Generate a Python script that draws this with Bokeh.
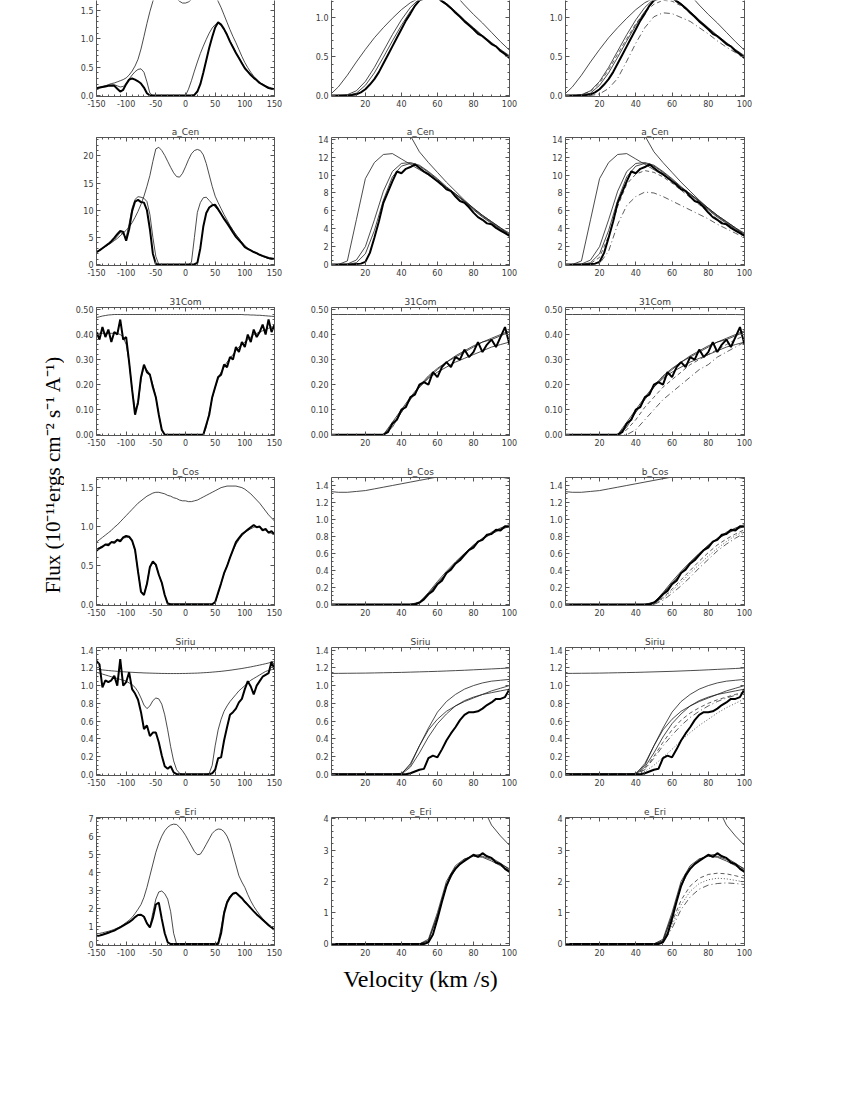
import numpy as np
from math import pi
from bokeh.plotting import figure
from bokeh.layouts import column, row
from bokeh.models import FixedTicker, LinearAxis, PrintfTickFormatter, CustomJSTickFormatter, Range1d
from bokeh.core.properties import value
from bokeh.embed import file_html
from bokeh.resources import INLINE

# ---------------- data ----------------
V = list(range(-150, 151, 5))          # full velocity grid (61)
VZ = [i * 2.5 for i in range(41)]      # zoom grid for observed (0..100)
VM = list(range(0, 101, 5))            # model grid (0..100)

STAR_NAMES = ["", "a_Cen", "31Com", "b_Cos", "Siriu", "e_Eri"]

s1_intr = [0.12, 0.13, 0.15, 0.17, 0.19, 0.21, 0.22, 0.24, 0.26, 0.28,
           0.31, 0.36, 0.43, 0.52, 0.64, 0.82, 1.04, 1.27, 1.48, 1.66,
           1.81, 1.92, 1.99, 2.01, 1.98, 1.90, 1.80, 1.71, 1.66, 1.63,
           1.63, 1.65, 1.69, 1.75, 1.82, 1.89, 1.94, 1.96, 1.95, 1.88,
           1.78, 1.66, 1.55, 1.42, 1.29, 1.16, 1.04, 0.93, 0.81, 0.69,
           0.58, 0.49, 0.41, 0.34, 0.28, 0.23, 0.20, 0.17, 0.15, 0.13,
           0.12]
s1_mod = [0.13, 0.14, 0.16, 0.17, 0.18, 0.19, 0.19, 0.17, 0.15, 0.16,
          0.21, 0.29, 0.36, 0.42, 0.46, 0.47, 0.41, 0.24, 0.04, 0.0,
          0.0, 0.0, 0.0, 0.0, 0.0, 0.0, 0.0, 0.0, 0.0, 0.0,
          0.0, 0.11, 0.26, 0.43, 0.59, 0.74, 0.87, 0.99, 1.10, 1.19,
          1.25, 1.28, 1.24, 1.16, 1.07, 0.96, 0.86, 0.76, 0.67, 0.58,
          0.49, 0.43, 0.37, 0.32, 0.27, 0.23, 0.19, 0.16, 0.14, 0.12,
          0.11]
s1_obs = [0.13, 0.14, 0.15, 0.16, 0.17, 0.17, 0.17, 0.12, 0.07, 0.10,
          0.20, 0.28, 0.30, 0.28, 0.25, 0.21, 0.14, 0.04, 0.0, 0.0,
          0.0, 0.0, 0.0, 0.0, 0.0, 0.0, 0.0, 0.0, 0.0, 0.0,
          0.0, 0.0, 0.0, 0.01, 0.07, 0.20, 0.40, 0.62, 0.84, 1.03,
          1.20, 1.29, 1.25, 1.17, 1.07, 0.95, 0.85, 0.75, 0.66, 0.57,
          0.48, 0.42, 0.36, 0.31, 0.27, 0.22, 0.19, 0.16, 0.13, 0.12,
          0.11]
s1_obsz = [0.0, 0.0, 0.0, 0.0, 0.0, 0.005, 0.015, 0.04, 0.08, 0.14,
           0.21, 0.30, 0.41, 0.52, 0.63, 0.74, 0.85, 0.96, 1.05, 1.15,
           1.22, 1.24, 1.29, 1.28, 1.26, 1.21, 1.17, 1.12, 1.06, 1.01,
           0.95, 0.90, 0.85, 0.79, 0.76, 0.71, 0.66, 0.63, 0.57, 0.53,
           0.48]
s1_fita = [0, 0, 0.0, 0.03, 0.13, 0.29, 0.49, 0.70, 0.90, 1.08, 1.21, 1.28, 1.26, 1.18, 1.08, 0.97, 0.87, 0.77, 0.68, 0.59, 0.51]
s1_fitb = [0, 0, 0.01, 0.06, 0.18, 0.36, 0.57, 0.78, 0.97, 1.13, 1.24, 1.28, 1.25, 1.17, 1.07, 0.96, 0.86, 0.76, 0.67, 0.58, 0.50]
s1_dd = [0, 0, 0, 0, 0.02, 0.09, 0.22, 0.44, 0.67, 0.87, 1.01, 1.06, 1.05, 1.00, 0.95, 0.87, 0.79, 0.70, 0.62, 0.55, 0.48]
s1_dash = [0, 0, 0.01, 0.05, 0.16, 0.33, 0.53, 0.73, 0.92, 1.07, 1.17, 1.22, 1.21, 1.15, 1.06, 0.96, 0.86, 0.76, 0.67, 0.58, 0.50]

s2_intr = [2.3, 2.6, 3.0, 3.3, 3.7, 4.0, 4.4, 4.8, 5.3, 5.8,
           6.3, 6.9, 7.7, 8.7, 9.8, 11.1, 12.6, 14.4, 16.4, 19.0,
           21.3, 21.6, 21.0, 20.1, 19.0, 17.9, 16.9, 16.2, 16.1, 16.8,
           18.0, 19.3, 20.4, 21.0, 21.2, 21.0, 20.2, 18.6, 16.5, 14.4,
           12.6, 11.4, 10.3, 9.2, 8.2, 7.2, 6.3, 5.5, 4.8, 4.1,
           3.5, 3.0, 2.6, 2.3, 2.0, 1.8, 1.5, 1.3, 1.1, 1.0,
           0.9]
s2_mod = [2.3, 2.6, 3.0, 3.3, 3.7, 4.1, 4.6, 5.2, 5.9, 5.6,
          5.0, 7.5, 10.4, 12.0, 12.5, 12.4, 12.2, 11.6, 9.2, 5.0,
          1.5, 0.0, 0.0, 0.0, 0.0, 0.0, 0.0, 0.0, 0.0, 0.0,
          0.0, 0.0, 0.4, 5.0, 9.6, 11.4, 12.3, 12.4, 11.8, 11.2,
          10.6, 10.0, 9.3, 8.6, 7.9, 7.1, 6.3, 5.5, 4.8, 4.1,
          3.3, 2.9, 2.6, 2.3, 2.0, 1.8, 1.5, 1.3, 1.1, 1.0,
          0.9]
s2_obs = [2.3, 2.6, 3.0, 3.4, 3.8, 4.3, 4.9, 5.6, 6.2, 6.0,
          4.4, 6.5, 9.8, 11.6, 11.9, 11.5, 11.4, 10.0, 6.5, 2.0,
          0.1, 0.0, 0.0, 0.0, 0.0, 0.0, 0.0, 0.0, 0.0, 0.0,
          0.0, 0.0, 0.0, 0.05, 0.3, 3.0, 7.0, 9.5, 10.5, 10.9,
          11.0, 10.2, 9.3, 8.4, 7.6, 6.8, 5.9, 5.1, 4.5, 3.9,
          3.2, 2.9, 2.6, 2.3, 2.1, 1.8, 1.6, 1.4, 1.2, 1.1,
          1.0]
s2_obsz = [0.0, 0.0, 0.0, 0.0, 0.0, 0.0, 0.05, 0.1, 0.3, 1.3,
           3.0, 4.8, 6.9, 8.1, 9.3, 10.4, 10.2, 10.7, 10.9, 11.2,
           10.8, 10.4, 10.1, 9.7, 9.3, 8.9, 8.4, 8.2, 7.6, 7.1,
           6.9, 6.4, 5.8, 5.3, 5.0, 4.6, 4.5, 4.1, 3.8, 3.5,
           3.2]
s2_fita = [0, 0, 0, 0.2, 1.2, 3.8, 7.2, 9.8, 11.0, 11.3, 11.0, 10.3, 9.5, 8.6, 7.8, 7.0, 6.1, 5.3, 4.6, 3.9, 3.3]
s2_fitb = [0, 0, 0.05, 0.5, 2.0, 5.0, 8.2, 10.4, 11.3, 11.4, 11.1, 10.4, 9.6, 8.7, 7.9, 7.1, 6.2, 5.4, 4.7, 4.0, 3.4]
s2_dd = [0, 0, 0, 0, 0.1, 1.5, 4.5, 6.6, 7.6, 8.1, 8.0, 7.6, 7.1, 6.6, 6.1, 5.6, 5.1, 4.5, 4.0, 3.5, 3.0]
s2_dash = [0, 0, 0, 0.1, 0.8, 3.2, 6.5, 9.0, 10.1, 10.5, 10.3, 9.8, 9.1, 8.3, 7.5, 6.7, 5.9, 5.1, 4.4, 3.8, 3.2]

s3_intr = [0.468, 0.471, 0.474, 0.476, 0.478, 0.479, 0.480, 0.480, 0.480, 0.480,
           0.480, 0.480, 0.480, 0.480, 0.480, 0.480, 0.480, 0.480, 0.480, 0.480,
           0.480, 0.480, 0.480, 0.480, 0.480, 0.480, 0.480, 0.480, 0.480, 0.480,
           0.480, 0.480, 0.480, 0.480, 0.480, 0.480, 0.480, 0.480, 0.480, 0.480,
           0.480, 0.480, 0.480, 0.480, 0.480, 0.480, 0.480, 0.480, 0.480, 0.480,
           0.479, 0.479, 0.478, 0.478, 0.477, 0.477, 0.476, 0.475, 0.474, 0.473,
           0.472]
s3_mod = [0.405, 0.405, 0.405, 0.405, 0.405, 0.405, 0.405, 0.405, 0.40, 0.39,
          0.36, 0.29, 0.18, 0.10, 0.12, 0.22, 0.27, 0.26, 0.24, 0.20,
          0.15, 0.08, 0.02, 0.0, 0.0, 0.0, 0.0, 0.0, 0.0, 0.0,
          0.0, 0.0, 0.0, 0.0, 0.0, 0.0, 0.0, 0.03, 0.09, 0.145,
          0.19, 0.225, 0.25, 0.27, 0.29, 0.305, 0.32, 0.335, 0.35, 0.36,
          0.37, 0.38, 0.39, 0.40, 0.405, 0.41, 0.415, 0.42, 0.425, 0.43,
          0.43]
s3_obs = [0.41, 0.38, 0.43, 0.39, 0.42, 0.37, 0.41, 0.40, 0.46, 0.38,
          0.39, 0.29, 0.18, 0.08, 0.13, 0.23, 0.28, 0.25, 0.24, 0.19,
          0.15, 0.08, 0.02, 0.0, 0.0, 0.0, 0.0, 0.0, 0.0, 0.0,
          0.0, 0.0, 0.0, 0.0, 0.0, 0.0, 0.0, 0.04, 0.08, 0.15,
          0.19, 0.23, 0.24, 0.28, 0.27, 0.31, 0.30, 0.35, 0.33, 0.37,
          0.35, 0.40, 0.37, 0.42, 0.39, 0.41, 0.44, 0.40, 0.46, 0.41,
          0.44]
s3_obsz = [0.0, 0.0, 0.0, 0.0, 0.0, 0.0, 0.0, 0.0, 0.0, 0.0,
           0.0, 0.0, 0.0, 0.01, 0.045, 0.06, 0.10, 0.11, 0.15, 0.16,
           0.20, 0.21, 0.20, 0.25, 0.23, 0.27, 0.29, 0.27, 0.31, 0.30,
           0.34, 0.31, 0.33, 0.37, 0.33, 0.36, 0.38, 0.35, 0.39, 0.43,
           0.36]
s3_fita = [0, 0, 0, 0, 0, 0, 0.0, 0.04, 0.09, 0.14, 0.19, 0.23, 0.26, 0.29, 0.31, 0.33, 0.35, 0.37, 0.38, 0.395, 0.41]
s3_fitb = [0, 0, 0, 0, 0, 0, 0.0, 0.05, 0.10, 0.15, 0.195, 0.235, 0.265, 0.29, 0.315, 0.335, 0.355, 0.37, 0.385, 0.40, 0.415]
s3_dd = [0, 0, 0, 0, 0, 0, 0, 0.0, 0.02, 0.06, 0.10, 0.14, 0.17, 0.20, 0.23, 0.26, 0.28, 0.31, 0.33, 0.35, 0.37]
s3_dash = [0, 0, 0, 0, 0, 0, 0, 0.02, 0.06, 0.11, 0.15, 0.19, 0.22, 0.25, 0.28, 0.30, 0.32, 0.34, 0.36, 0.38, 0.395]

s4_intr = [0.80, 0.83, 0.86, 0.89, 0.92, 0.95, 0.99, 1.02, 1.06, 1.10,
           1.14, 1.18, 1.22, 1.26, 1.30, 1.33, 1.36, 1.39, 1.41, 1.43,
           1.44, 1.44, 1.43, 1.42, 1.40, 1.39, 1.37, 1.36, 1.34, 1.33,
           1.33, 1.32, 1.32, 1.33, 1.34, 1.36, 1.38, 1.40, 1.42, 1.44,
           1.46, 1.48, 1.50, 1.51, 1.52, 1.52, 1.52, 1.52, 1.51, 1.50,
           1.48, 1.45, 1.42, 1.38, 1.34, 1.30, 1.25, 1.20, 1.15, 1.11,
           1.07]
s4_mod = [0.71, 0.73, 0.75, 0.77, 0.78, 0.80, 0.81, 0.82, 0.83, 0.85,
          0.86, 0.86, 0.81, 0.69, 0.42, 0.17, 0.13, 0.27, 0.48, 0.54,
          0.50, 0.39, 0.27, 0.12, 0.01, 0.0, 0.0, 0.0, 0.0, 0.0,
          0.0, 0.0, 0.0, 0.0, 0.0, 0.0, 0.0, 0.0, 0.0, 0.0,
          0.02, 0.14, 0.27, 0.39, 0.50, 0.60, 0.69, 0.77, 0.83, 0.88,
          0.92, 0.95, 0.97, 0.99, 1.00, 0.99, 0.97, 0.95, 0.93, 0.91,
          0.90]
s4_obs = [0.69, 0.72, 0.74, 0.77, 0.76, 0.80, 0.79, 0.83, 0.81, 0.86,
          0.88, 0.87, 0.82, 0.70, 0.42, 0.16, 0.12, 0.26, 0.48, 0.55,
          0.51, 0.38, 0.28, 0.12, 0.01, 0.0, 0.0, 0.0, 0.0, 0.0,
          0.0, 0.0, 0.0, 0.0, 0.0, 0.0, 0.0, 0.0, 0.0, 0.0,
          0.03, 0.15, 0.27, 0.40, 0.49, 0.60, 0.70, 0.80, 0.85, 0.90,
          0.93, 0.96, 0.99, 1.02, 0.99, 1.00, 0.95, 0.97, 0.92, 0.94,
          0.90]
s4_obsz = [0.0, 0.0, 0.0, 0.0, 0.0, 0.0, 0.0, 0.0, 0.0, 0.0,
           0.0, 0.0, 0.0, 0.0, 0.0, 0.0, 0.0, 0.0, 0.0, 0.0,
           0.02, 0.06, 0.12, 0.16, 0.24, 0.28, 0.37, 0.41, 0.48, 0.52,
           0.58, 0.64, 0.67, 0.74, 0.76, 0.82, 0.83, 0.88, 0.87, 0.92,
           0.91]
s4_fita = [0, 0, 0, 0, 0, 0, 0, 0, 0, 0, 0.02, 0.12, 0.24, 0.36, 0.48, 0.59, 0.69, 0.77, 0.84, 0.89, 0.93]
s4_fitb = [0, 0, 0, 0, 0, 0, 0, 0, 0, 0.0, 0.03, 0.13, 0.25, 0.37, 0.49, 0.60, 0.70, 0.78, 0.85, 0.90, 0.94]
s4_dd = [0, 0, 0, 0, 0, 0, 0, 0, 0, 0, 0.0, 0.05, 0.13, 0.22, 0.32, 0.43, 0.53, 0.63, 0.71, 0.78, 0.84]
s4_dash = [0, 0, 0, 0, 0, 0, 0, 0, 0, 0, 0.01, 0.08, 0.18, 0.29, 0.40, 0.51, 0.61, 0.70, 0.77, 0.83, 0.88]
s4_dot = [0, 0, 0, 0, 0, 0, 0, 0, 0, 0, 0.0, 0.07, 0.16, 0.26, 0.37, 0.47, 0.57, 0.66, 0.74, 0.81, 0.86]

s5_intr = [1.185, 1.181, 1.177, 1.173, 1.170, 1.167, 1.164, 1.161, 1.159, 1.156,
           1.154, 1.152, 1.150, 1.148, 1.146, 1.145, 1.143, 1.142, 1.141, 1.140,
           1.139, 1.138, 1.137, 1.137, 1.136, 1.136, 1.136, 1.136, 1.136, 1.137,
           1.137, 1.138, 1.139, 1.140, 1.141, 1.143, 1.145, 1.147, 1.149, 1.152,
           1.155, 1.158, 1.161, 1.165, 1.169, 1.173, 1.178, 1.183, 1.188, 1.193,
           1.199, 1.205, 1.211, 1.218, 1.225, 1.232, 1.239, 1.247, 1.255, 1.263,
           1.271]
s5_mod = [1.15, 1.14, 1.13, 1.12, 1.11, 1.10, 1.09, 1.08, 1.07, 1.06,
          1.05, 1.03, 1.01, 0.98, 0.93, 0.86, 0.78, 0.74, 0.77, 0.83,
          0.86, 0.85, 0.79, 0.67, 0.50, 0.31, 0.15, 0.05, 0.01, 0.0,
          0.0, 0.0, 0.0, 0.0, 0.0, 0.0, 0.0, 0.0, 0.01, 0.10,
          0.32, 0.50, 0.62, 0.71, 0.77, 0.82, 0.86, 0.90, 0.94, 0.97,
          1.00, 1.03, 1.06, 1.08, 1.10, 1.12, 1.14, 1.16, 1.17, 1.18,
          1.19]
s5_obs = [1.28, 1.24, 0.98, 1.06, 1.04, 1.06, 1.11, 1.00, 1.30, 1.00,
          1.04, 1.15, 0.96, 0.91, 0.84, 0.70, 0.51, 0.55, 0.43, 0.47,
          0.47, 0.36, 0.21, 0.09, 0.06, 0.09, 0.02, 0.0, 0.0, 0.0,
          0.0, 0.0, 0.0, 0.0, 0.0, 0.0, 0.0, 0.0, 0.0, 0.01,
          0.05, 0.18, 0.19, 0.38, 0.53, 0.67, 0.70, 0.74, 0.81, 0.85,
          0.96, 1.05, 0.99, 0.90, 1.00, 1.05, 1.10, 1.12, 1.14, 1.27,
          1.18]
s5_obsz = [0.0, 0.0, 0.0, 0.0, 0.0, 0.0, 0.0, 0.0, 0.0, 0.0,
           0.0, 0.0, 0.0, 0.0, 0.0, 0.0, 0.0, 0.0, 0.01, 0.03,
           0.05, 0.06, 0.18, 0.21, 0.19, 0.28, 0.38, 0.46, 0.53, 0.61,
           0.67, 0.70, 0.70, 0.71, 0.74, 0.78, 0.81, 0.85, 0.85, 0.87,
           0.96]
s5_fita = [0, 0, 0, 0, 0, 0, 0, 0, 0.0, 0.08, 0.24, 0.42, 0.57, 0.68, 0.77, 0.83, 0.87, 0.90, 0.92, 0.94, 0.96]
s5_fitb = [0, 0, 0, 0, 0, 0, 0, 0, 0.0, 0.12, 0.32, 0.52, 0.70, 0.82, 0.90, 0.96, 1.00, 1.03, 1.05, 1.06, 1.07]
s5_dd = [0, 0, 0, 0, 0, 0, 0, 0, 0.0, 0.05, 0.18, 0.32, 0.44, 0.55, 0.64, 0.71, 0.77, 0.82, 0.86, 0.89, 0.92]
s5_dash = [0, 0, 0, 0, 0, 0, 0, 0, 0.0, 0.06, 0.20, 0.36, 0.50, 0.61, 0.69, 0.75, 0.80, 0.84, 0.87, 0.90, 0.93]
s5_dot = [0, 0, 0, 0, 0, 0, 0, 0, 0.0, 0.03, 0.10, 0.19, 0.28, 0.38, 0.47, 0.55, 0.62, 0.69, 0.75, 0.80, 0.85]

s6_intr = [0.55, 0.59, 0.63, 0.67, 0.71, 0.76, 0.82, 0.89, 0.97, 1.08,
           1.20, 1.33, 1.48, 1.70, 1.94, 2.20, 2.60, 3.15, 3.80, 4.45,
           5.10, 5.60, 6.00, 6.30, 6.50, 6.62, 6.67, 6.65, 6.50, 6.30,
           6.05, 5.75, 5.45, 5.15, 4.97, 5.00, 5.25, 5.55, 5.85, 6.15,
           6.32, 6.40, 6.38, 6.25, 6.00, 5.60, 5.00, 4.40, 3.80, 3.45,
           3.15, 2.75, 2.40, 2.10, 1.85, 1.62, 1.42, 1.25, 1.10, 0.95,
           0.82]
s6_mod = [0.44, 0.48, 0.53, 0.58, 0.64, 0.70, 0.76, 0.85, 0.94, 1.03,
          1.13, 1.23, 1.35, 1.50, 1.62, 1.64, 1.55, 1.20, 0.95, 1.75,
          2.50, 2.90, 2.95, 2.80, 2.50, 1.80, 0.60, 0.0, 0.0, 0.0,
          0.0, 0.0, 0.0, 0.0, 0.0, 0.0, 0.0, 0.0, 0.0, 0.0,
          0.0, 0.1, 0.9, 1.85, 2.40, 2.68, 2.83, 2.87, 2.75, 2.58,
          2.38, 2.20, 2.02, 1.84, 1.67, 1.51, 1.36, 1.21, 1.07, 0.94,
          0.82]
s6_obs = [0.43, 0.47, 0.52, 0.57, 0.63, 0.69, 0.75, 0.84, 0.93, 1.02,
          1.12, 1.22, 1.34, 1.50, 1.62, 1.63, 1.52, 1.15, 0.92, 1.45,
          2.20, 2.30, 1.40, 0.60, 0.10, 0.0, 0.0, 0.0, 0.0, 0.0,
          0.0, 0.0, 0.0, 0.0, 0.0, 0.0, 0.0, 0.0, 0.0, 0.0,
          0.0, 0.0, 0.6, 1.7, 2.3, 2.6, 2.8, 2.85, 2.7, 2.55,
          2.35, 2.18, 2.00, 1.82, 1.65, 1.50, 1.35, 1.20, 1.05, 0.92,
          0.80]
s6_obsz = [0.0, 0.0, 0.0, 0.0, 0.0, 0.0, 0.0, 0.0, 0.0, 0.0,
           0.0, 0.0, 0.0, 0.0, 0.0, 0.0, 0.0, 0.0, 0.0, 0.0,
           0.0, 0.0, 0.05, 0.3, 0.8, 1.35, 1.85, 2.2, 2.4, 2.55,
           2.65, 2.75, 2.85, 2.78, 2.9, 2.8, 2.75, 2.6, 2.55, 2.4,
           2.3]
s6_fita = [0, 0, 0, 0, 0, 0, 0, 0, 0, 0, 0.0, 0.1, 0.9, 1.9, 2.45, 2.7, 2.82, 2.8, 2.7, 2.55, 2.4]
s6_fitb = [0, 0, 0, 0, 0, 0, 0, 0, 0, 0, 0.0, 0.15, 1.0, 2.0, 2.5, 2.72, 2.8, 2.77, 2.65, 2.5, 2.35]
s6_dd = [0, 0, 0, 0, 0, 0, 0, 0, 0, 0, 0.0, 0.05, 0.5, 1.1, 1.5, 1.75, 1.88, 1.93, 1.95, 1.93, 1.90]
s6_dash = [0, 0, 0, 0, 0, 0, 0, 0, 0, 0, 0.0, 0.08, 0.7, 1.4, 1.85, 2.1, 2.22, 2.26, 2.24, 2.18, 2.10]
s6_dot = [0, 0, 0, 0, 0, 0, 0, 0, 0, 0, 0.0, 0.06, 0.6, 1.25, 1.68, 1.93, 2.05, 2.10, 2.08, 2.03, 1.98]

# tick labels
X1_TICKS = [-150, -100, -50, 0, 50, 100, 150]
X2_TICKS = [20, 40, 60, 80, 100]
Y1_TICKS = [[0, 0.5, 1.0, 1.5], [0, 5, 10, 15, 20], [0, 0.1, 0.2, 0.3, 0.4, 0.5],
            [0, 0.5, 1.0, 1.5], [0, 0.2, 0.4, 0.6, 0.8, 1.0, 1.2, 1.4], [0, 1, 2, 3, 4, 5, 6, 7]]
Y2_TICKS = [[0, 0.5, 1.0], [0, 2, 4, 6, 8, 10, 12, 14], [0, 0.1, 0.2, 0.3, 0.4, 0.5],
            [0, 0.2, 0.4, 0.6, 0.8, 1.0, 1.2, 1.4], [0, 0.2, 0.4, 0.6, 0.8, 1.0, 1.2, 1.4], [0, 1, 2, 3, 4]]
Y_FMT = ["%.1f", "%d", "%.2f", "%.1f", "%.1f", "%d"]
YLABEL = "Flux (10\u207b\u00b9\u00b9ergs cm\u207b\u00b2 s\u207b\u00b9 A\u207b\u00b9)"
XLABEL = "Velocity (km /s)"

# ---------------- styling / layout ----------------
Y1_RANGE = [(-0.018, 1.675), (-0.18, 23.4), (-0.003, 0.508), (-0.015, 1.63), (-0.015, 1.43), (-0.08, 7.04)]
Y2_RANGE = [(-0.013, 1.218), (-0.11, 14.2), (-0.003, 0.508), (-0.012, 1.494), (-0.015, 1.43), (-0.05, 4.04)]
Y1_MINOR = [0.1, 1, 0.02, 0.1, 0.05, 0.2]
Y2_MINOR = [0.1, 0.5, 0.02, 0.05, 0.05, 0.2]

FRAME = "#555555"
LABC = "#3a3a3a"
THIN = "#1e1e1e"

STARS = []
for k, nm in enumerate(STAR_NAMES):
    g = globals()
    STARS.append(dict(name=nm, intr=g["s%d_intr" % (k + 1)], mod=g["s%d_mod" % (k + 1)],
                      obs=g["s%d_obs" % (k + 1)], obsz=g["s%d_obsz" % (k + 1)],
                      fita=g["s%d_fita" % (k + 1)], fitb=g["s%d_fitb" % (k + 1)],
                      dd=g["s%d_dd" % (k + 1)], dash=g["s%d_dash" % (k + 1)],
                      dot=g.get("s%d_dot" % (k + 1))))


def minor_list(lo, hi, step):
    n = int(round((hi - lo) / step))
    return [round(lo + i * step, 6) for i in range(n + 1)]


def style_axis(ax, ticker, fmt, show):
    ax.ticker = ticker
    ax.formatter = PrintfTickFormatter(format=fmt) if show else CustomJSTickFormatter(code="return '';")
    ax.axis_line_color = FRAME
    ax.axis_line_width = 1
    ax.major_tick_in = 4
    ax.major_tick_out = 0
    ax.minor_tick_in = 2
    ax.minor_tick_out = 0
    ax.major_tick_line_color = FRAME
    ax.minor_tick_line_color = FRAME
    ax.major_label_text_font = "DejaVu Sans"
    ax.major_label_text_font_size = "8px"
    ax.major_label_text_color = LABC
    ax.major_label_standoff = 3


NROWS = len(STARS)


def panel(ri, ci, st):
    first = ri == 0
    last = ri == NROWS - 1
    if ci == 0:
        w, bl = 230, 32
        xr = (-150, 150)
        xt = FixedTicker(ticks=X1_TICKS, minor_ticks=minor_list(-150, 150, 10))
        yr = Y1_RANGE[ri]
        yt = FixedTicker(ticks=Y1_TICKS[ri], minor_ticks=minor_list(0, Y1_TICKS[ri][-1] + 3 * Y1_MINOR[ri], Y1_MINOR[ri]))
    else:
        w, bl = 235, (37 if ci == 1 else 36)
        xr = (1.2, 100)
        xt = FixedTicker(ticks=X2_TICKS, minor_ticks=minor_list(0, 100, 5))
        yr = Y2_RANGE[ri]
        yt = FixedTicker(ticks=Y2_TICKS[ri], minor_ticks=minor_list(0, Y2_TICKS[ri][-1] + 3 * Y2_MINOR[ri], Y2_MINOR[ri]))
    bt = 0 if first else 20
    bb = 21 if first else (15 if last else 22)
    fh = 96 if first else 128
    p = figure(width=w, height=bt + fh + bb, x_range=Range1d(*xr), y_range=Range1d(*yr),
               output_backend="svg", toolbar_location=None,
               title=None if first else st["name"],
               min_border_left=bl, min_border_right=20,
               min_border_top=bt, min_border_bottom=bb)
    p.outline_line_color = None
    p.grid.visible = False
    p.background_fill_color = "white"
    p.border_fill_color = "white"
    if not first:
        p.title.align = "center"
        p.title.text_font = "DejaVu Sans"
        p.title.text_font_size = "9px"
        p.title.text_font_style = "normal"
        p.title.text_color = LABC
        p.title.standoff = 1
    style_axis(p.xaxis[0], xt, "%d", True)
    style_axis(p.yaxis[0], yt, Y_FMT[ri], True)
    ra = LinearAxis()
    style_axis(ra, yt, "%d", False)
    p.add_layout(ra, "right")
    if not first:
        ta = LinearAxis()
        style_axis(ta, xt, "%d", False)
        p.add_layout(ta, "above")

    thin = 0.8
    p.line(V, st["intr"], line_width=thin, line_color=THIN)
    p.line(V, st["mod"], line_width=thin, line_color=THIN)
    if ci == 0:
        p.line(V, st["obs"], line_width=2.0, line_color="black")
    else:
        p.line(VM, st["fita"], line_width=thin, line_color=THIN)
        p.line(VM, st["fitb"], line_width=thin, line_color=THIN)
        if ci == 2:
            p.line(VM, st["dash"], line_width=thin, line_color="#333333", line_dash="4 3")
            p.line(VM, st["dd"], line_width=thin, line_color="#333333", line_dash="6 3 1 3")
            if st["dot"] is not None:
                p.line(VM, st["dot"], line_width=thin, line_color="#333333", line_dash="1 2")
        p.line(VZ, st["obsz"], line_width=2.0, line_color="black")
    return p


rows = []
for ri, st in enumerate(STARS):
    rows.append(row(*[panel(ri, ci, st) for ci in range(3)]))
grid = column(*rows)

GRID_H = 117 + 4 * 170 + 163
lab = figure(width=64, height=GRID_H, x_range=Range1d(0, 64), y_range=Range1d(0, GRID_H),
             output_backend="svg", toolbar_location=None, title=None,
             x_axis_location=None, y_axis_location=None, min_border=0)
lab.grid.visible = False
lab.outline_line_color = None
lab.text(x=[52], y=[GRID_H - 474], text=[YLABEL], angle=pi / 2, text_align="center",
         text_baseline="middle", text_font=value("Liberation Serif"), text_font_size="21px",
         text_color="black")

VEL_H = 50
vel = figure(width=764, height=VEL_H, x_range=Range1d(0, 764), y_range=Range1d(0, VEL_H),
             output_backend="svg", toolbar_location=None, title=None,
             x_axis_location=None, y_axis_location=None, min_border=0)
vel.grid.visible = False
vel.outline_line_color = None
vel.text(x=[420], y=[VEL_H - 18], text=[XLABEL], text_align="center", text_baseline="middle",
         text_font=value("Liberation Serif"), text_font_size="24px", text_color="black")

layout = column(row(lab, grid), vel)
open("out.html", "w").write(file_html(layout, INLINE))
